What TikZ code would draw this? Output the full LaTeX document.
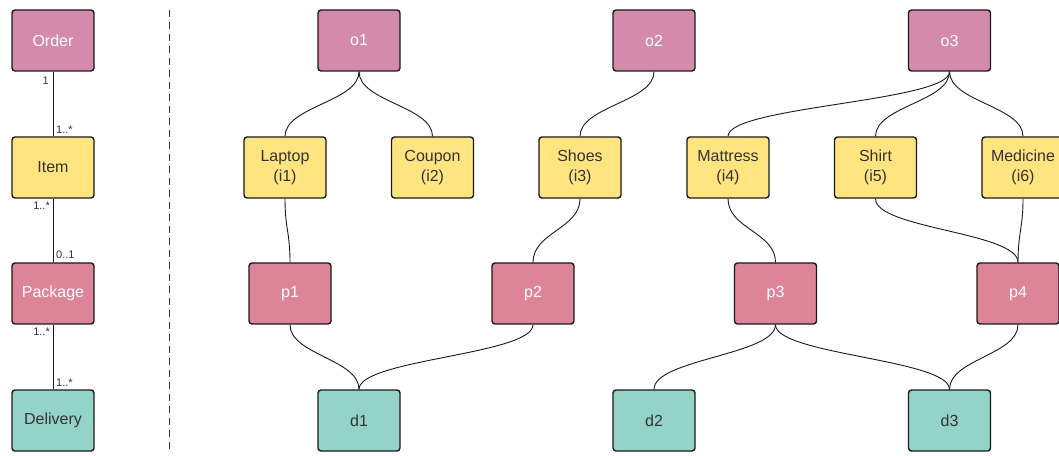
\documentclass[tikz,border=0pt]{standalone}
\usepackage{fontspec}
\setmainfont{Liberation Sans}
\usepackage{xcolor}
\usetikzlibrary{positioning}

\definecolor{ordercol}{HTML}{D48AAB}
\definecolor{itemcol}{HTML}{FFE480}
\definecolor{packcol}{HTML}{DE8499}
\definecolor{delcol}{HTML}{94D3C8}
\definecolor{boxline}{HTML}{1A1A1A}
\definecolor{textgray}{HTML}{333333}

\tikzset{
	box/.style={draw=boxline, line width=1.4pt, rounded corners=3pt,
		minimum width=82pt, minimum height=61pt, inner sep=0pt,
		align=center, font=\fontsize{16}{20}\selectfont},
	order/.style={box, fill=ordercol, text=white},
	item/.style={box, fill=itemcol, text=textgray},
	pack/.style={box, fill=packcol, text=white},
	deliv/.style={box, fill=delcol, text=textgray},
	link/.style={draw=boxline, line width=0.9pt},
	curvy/.style={out=-90, in=90, distance=30pt},
	mult/.style={font=\fontsize{11}{11}\selectfont, text=textgray, inner sep=2pt},
}

\begin{document}
\begin{tikzpicture}[x=1pt, y=1pt]
	\useasboundingbox (0,0) rectangle (1059,455);
	\clip (0,0) rectangle (1059,455);
	
	% schema on the left
	\node[order] (order)    at (53,414.5) {Order};
	\node[item]  (item)     at (53,287.5) {Item};
	\node[pack]  (package)  at (53,161.5) {Package};
	\node[deliv] (delivery) at (53,34.5)  {Delivery};
	
	\draw[link] (order) -- (item);
	\draw[link] (item) -- (package);
	\draw[link] (package) -- (delivery);
	
	\node[mult, anchor=north east] at ([xshift=-2pt,yshift=-3pt]order.south) {1};
	\node[mult, anchor=south west] at ([xshift=1pt,yshift=1pt]item.north) {1..*};
	\node[mult, anchor=north east] at ([xshift=-1pt,yshift=-1pt]item.south) {1..*};
	\node[mult, anchor=south west] at ([xshift=1pt,yshift=1pt]package.north) {0..1};
	\node[mult, anchor=north east] at ([xshift=-1pt,yshift=-1pt]package.south) {1..*};
	\node[mult, anchor=south west] at ([xshift=1pt,yshift=1pt]delivery.north) {1..*};
	
	% separator
	\coordinate (sepTop) at (169,445);
	\coordinate (sepBot) at (169,3);
	\draw[draw=textgray, line width=1pt, dash pattern=on 7pt off 5pt] (sepTop) -- (sepBot);
	
	% instances
	\node[order] (o1) at (359,414.5) {o1};
	\node[order] (o2) at (654,414.5) {o2};
	\node[order] (o3) at (949.5,414.5) {o3};
	
	\node[item] (i1) at (285,287.5)   {Laptop\\(i1)};
	\node[item] (i2) at (432.5,287.5) {Coupon\\(i2)};
	\node[item] (i3) at (580,287.5)   {Shoes\\(i3)};
	\node[item] (i4) at (728,287.5)   {Mattress\\(i4)};
	\node[item] (i5) at (875.5,287.5) {Shirt\\(i5)};
	\node[item] (i6) at (1023,287.5)  {Medicine\\(i6)};
	
	\node[pack] (p1) at (290,161.5)   {p1};
	\node[pack] (p2) at (533,161.5)   {p2};
	\node[pack] (p3) at (775.5,161.5) {p3};
	\node[pack] (p4) at (1018,161.5)  {p4};
	
	\node[deliv] (d1) at (359,34.5)   {d1};
	\node[deliv] (d2) at (654,34.5)   {d2};
	\node[deliv] (d3) at (949.5,34.5) {d3};
	
	% orders -> items
	\draw[link] (o1.south) to[curvy] (i1.north);
	\draw[link] (o1.south) to[curvy] (i2.north);
	\draw[link] (o2.south) to[curvy] (i3.north);
	\draw[link] (o3.south) to[curvy] (i4.north);
	\draw[link] (o3.south) to[curvy] (i5.north);
	\draw[link] (o3.south) to[curvy] (i6.north);
	
	% items -> packages
	\draw[link] (i1.south) to[curvy] (p1.north);
	\draw[link] (i3.south) to[curvy] (p2.north);
	\draw[link] (i4.south) to[curvy] (p3.north);
	\draw[link] (i5.south) to[curvy] (p4.north);
	\draw[link] (i6.south) to[curvy] (p4.north);
	
	% packages -> deliveries
	\draw[link] (p1.south) to[curvy] (d1.north);
	\draw[link] (p2.south) to[curvy] (d1.north);
	\draw[link] (p3.south) to[curvy] (d2.north);
	\draw[link] (p3.south) to[curvy] (d3.north);
	\draw[link] (p4.south) to[curvy] (d3.north);
\end{tikzpicture}
\end{document}
